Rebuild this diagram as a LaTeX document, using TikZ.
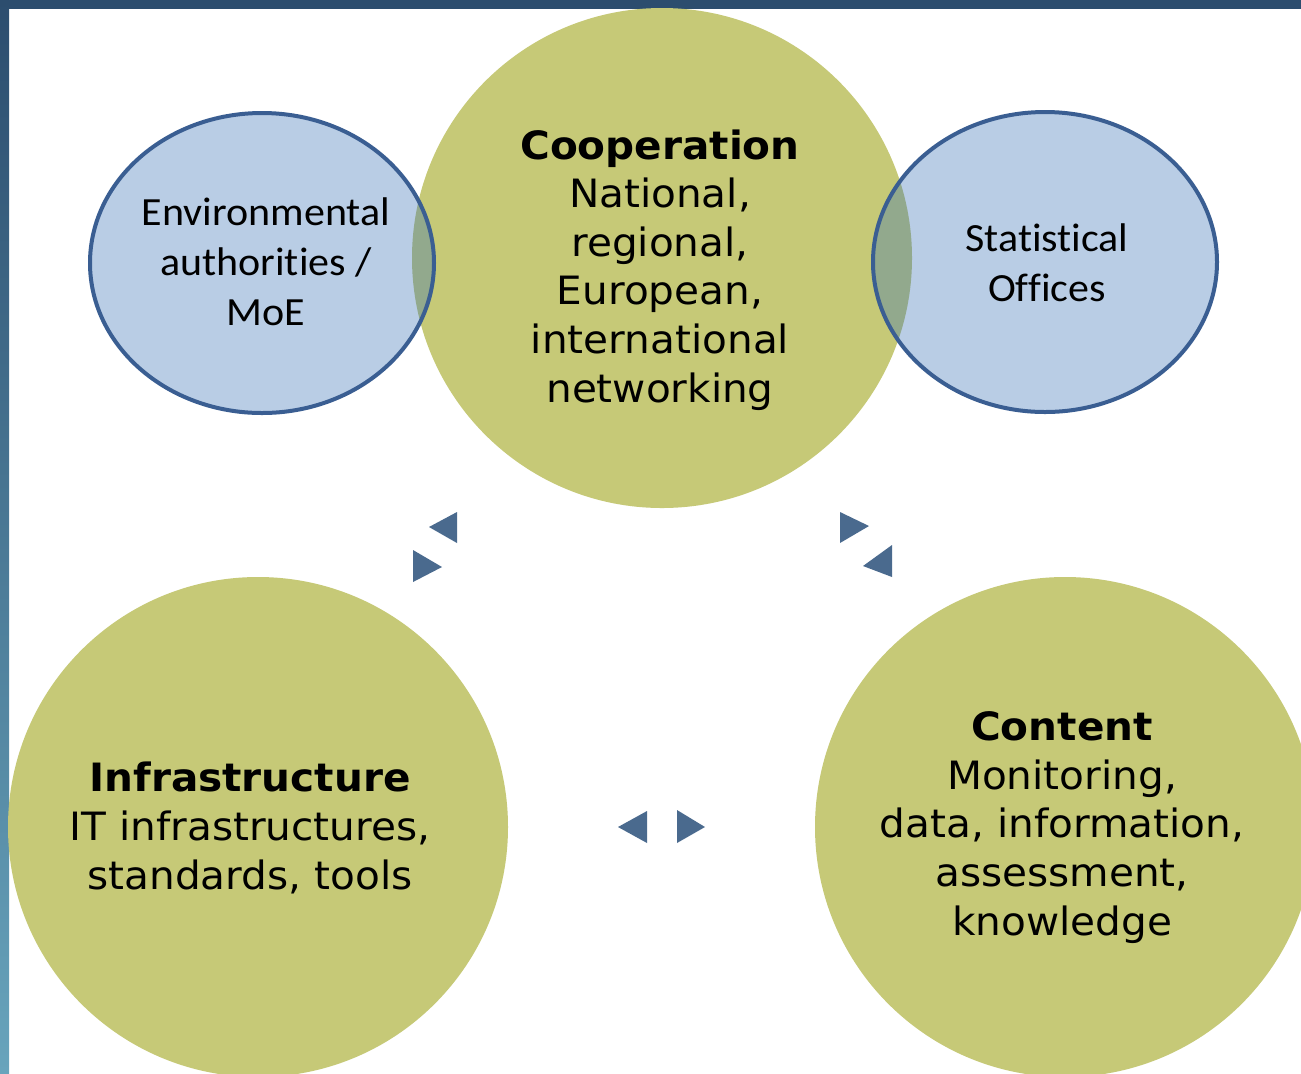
\documentclass[tikz,border=0pt]{standalone}
\usepackage{fontspec}
\setmainfont{DejaVu Sans}
\newfontfamily\ovalfont[Ligatures=CommonOff]{Carlito}
\usetikzlibrary{shapes.geometric}

\definecolor{discGreen}{HTML}{C6C977}
\definecolor{ovalBlue}{HTML}{B9CDE5}
\definecolor{ovalEdge}{HTML}{3A5E92}
\definecolor{lensGreen}{HTML}{92A98D}
\definecolor{tipBlue}{HTML}{4A6A8E}
\definecolor{barDark}{HTML}{2C4D6E}
\definecolor{barLight}{HTML}{68A4BC}

\begin{document}
\begin{tikzpicture}[x=0.5pt, y=-0.5pt,
  disc/.style={circle, fill=discGreen, minimum size=250pt, inner sep=0pt},
  oval/.style={ellipse, fill=ovalBlue, minimum width=172pt, minimum height=150pt, inner sep=0pt},
  disctext/.style={align=center, anchor=base, text=black, xscale=1.04, transform shape,
    font={\fontsize{19.5pt}{24.3pt}\selectfont}},
  ovaltext/.style={align=center, anchor=base, text=black, xscale=1.05, transform shape,
    font={\ovalfont\fontsize{20pt}{25pt}\selectfont}},
  ovalline/.style={ovalEdge, line width=2pt},
  tip/.style={fill=tipBlue}]

  \useasboundingbox (0,0) rectangle (1301,1073);
  \fill[white] (0,0) rectangle (1301,1073);

  % frame
  \fill[barDark] (0,0) rectangle (1301,9);
  \shade[top color=barDark, bottom color=barLight] (0,0) rectangle (9,1073);

  % three discs
  \node[disc] (coop) at (662,258) {};
  \node[disc] (infra) at (258,827) {};
  \node[disc] (content) at (1065,827) {};

  % two ovals
  \node[oval] (envi) at (262,263) {};
  \node[oval] (stat) at (1045,262) {};

  % overlaps
  \begin{scope}
    \clip (envi.center) ellipse [x radius=86pt, y radius=75pt];
    \fill[lensGreen] (coop.center) circle (125pt);
  \end{scope}
  \begin{scope}
    \clip (stat.center) ellipse [x radius=86pt, y radius=75pt];
    \fill[lensGreen] (coop.center) circle (125pt);
  \end{scope}
  \draw[ovalline] (envi.center) ellipse [x radius=86pt, y radius=75pt];
  \draw[ovalline] (stat.center) ellipse [x radius=86pt, y radius=75pt];

  % texts (base = last line)
  \node[disctext] (cooptext) at (660,402) {\textbf{Cooperation}\\National,\\regional,\\European,\\international\\networking};
  \node[disctext] (infratext) at (250,889) {\textbf{Infrastructure}\\IT infrastructures,\\standards, tools};
  \node[disctext] (contenttext) at (1062,935) {\textbf{Content}\\Monitoring,\\data, information,\\assessment,\\knowledge};
  \node[ovaltext] (envitext) at (266,325) {Environmental\\authorities /\\MoE};
  \node[ovaltext] (stattext) at (1047,301) {Statistical\\Offices};

  % arrow tips
  \fill[tip, shift={(429,527)}] (0,0) -- (28,-15) -- (28,16) -- cycle;
  \fill[tip, shift={(442,567)}] (0,0) -- (-29,-17) -- (-29,15) -- cycle;
  \fill[tip, shift={(869,526)}] (0,0) -- (-29,-14) -- (-29,17) -- cycle;
  \fill[tip, shift={(863,566)}] (0,0) -- (29,-21) -- (29,11) -- cycle;
  \fill[tip, shift={(618,827)}] (0,0) -- (29,-16) -- (29,16) -- cycle;
  \fill[tip, shift={(705,827)}] (0,0) -- (-28,-17) -- (-28,16) -- cycle;
\end{tikzpicture}
\end{document}
